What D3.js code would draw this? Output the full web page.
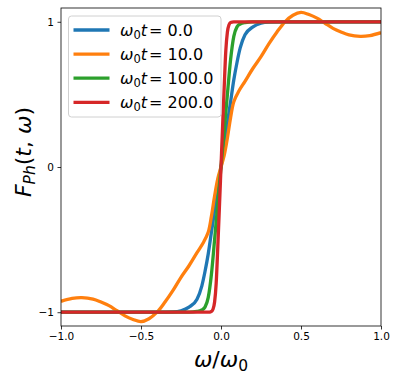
<!DOCTYPE html>
<html>
<head>
<meta charset="utf-8">
<script src="https://cdn.jsdelivr.net/npm/d3@7"></script>
<style>
  * { margin: 0; padding: 0; }
  body { background: #fff; font-family: "DejaVu Sans", sans-serif; }
  svg { display: block; }
</style>
</head>
<body>
<div id="chart"></div>
<script>
// data
const blueX = [-1, -0.4, -0.3, -0.25, -0.2, -0.15, -0.12, -0.1, -0.08, -0.06, -0.04, -0.02, 0, 0.02, 0.04, 0.06, 0.08, 0.1, 0.12, 0.15, 0.2, 0.25, 0.3, 0.4, 1];
const blueY = [-1, -1, -0.998, -0.99, -0.965, -0.91, -0.82, -0.72, -0.6, -0.45, -0.3, -0.13, 0, 0.13, 0.3, 0.45, 0.6, 0.72, 0.82, 0.91, 0.965, 0.99, 0.998, 1, 1];

const orangeX = [-1, -0.93, -0.87, -0.8, -0.75, -0.7, -0.65, -0.6, -0.55, -0.5, -0.45, -0.4, -0.35, -0.3, -0.25, -0.2, -0.15, -0.11, -0.08, -0.06, -0.04, -0.02, 0,
  0.02, 0.04, 0.06, 0.08, 0.11, 0.15, 0.2, 0.25, 0.3, 0.35, 0.4, 0.45, 0.5, 0.55, 0.6, 0.65, 0.7, 0.75, 0.8, 0.87, 0.93, 1];
const orangeY = [-0.925, -0.905, -0.9, -0.91, -0.93, -0.955, -0.99, -1.025, -1.05, -1.065, -1.045, -1.0, -0.93, -0.85, -0.76, -0.68, -0.59, -0.52, -0.45, -0.34, -0.2, -0.08, 0,
  0.08, 0.2, 0.34, 0.45, 0.52, 0.59, 0.68, 0.76, 0.85, 0.93, 1.0, 1.045, 1.065, 1.05, 1.025, 0.99, 0.955, 0.93, 0.91, 0.9, 0.905, 0.925];

const greenX = [-1, -0.2, -0.15, -0.12, -0.1, -0.08, -0.06, -0.04, -0.02, 0, 0.02, 0.04, 0.06, 0.08, 0.1, 0.12, 0.15, 0.2, 1];
const greenY = [-1, -1, -0.995, -0.985, -0.965, -0.9, -0.74, -0.5, -0.25, 0, 0.25, 0.5, 0.74, 0.9, 0.965, 0.985, 0.995, 1, 1];

const redX = [-1, -0.08, -0.06, -0.05, -0.04, -0.03, -0.02, -0.01, 0, 0.01, 0.02, 0.03, 0.04, 0.05, 0.06, 0.08, 1];
const redY = [-1, -1, -0.995, -0.98, -0.93, -0.8, -0.55, -0.28, 0, 0.28, 0.55, 0.8, 0.93, 0.98, 0.995, 1, 1];

const seriesNames = ["0.0", "10.0", "100.0", "200.0"];
const seriesColors = ["#1f77b4", "#ff7f0e", "#2ca02c", "#d62728"];
const xTicks = [-1, -0.5, 0, 0.5, 1];
const yTicks = [-1, 0, 1];

const W = 399, H = 381;
const mLeft = 61, mRight = 381, mTop = 8, mBottom = 326;

const x = d3.scaleLinear().domain([-1, 1]).range([mLeft, mRight]);
const y = d3.scaleLinear().domain([-1.095, 1.095]).range([mBottom, mTop]);

const svg = d3.select("#chart").append("svg")
  .attr("width", W).attr("height", H)
  .style("font-family", "DejaVu Sans, sans-serif");

const defs = svg.append("defs");
defs.append("clipPath").attr("id", "clip")
  .append("rect").attr("x", mLeft).attr("y", mTop)
  .attr("width", mRight - mLeft).attr("height", mBottom - mTop);

const fmtMinus = (s) => s.replace("-", "\u2212");

const xAxis = svg.append("g")
  .attr("transform", "translate(0," + mBottom + ")")
  .call(d3.axisBottom(x).tickValues(xTicks).tickSizeOuter(0).tickSize(3.5).tickPadding(3)
    .tickFormat((d) => fmtMinus(d3.format(".1f")(d))));
const yAxis = svg.append("g")
  .attr("transform", "translate(" + mLeft + ",0)")
  .call(d3.axisLeft(y).tickValues(yTicks).tickSizeOuter(0).tickSize(3.5).tickPadding(3.5)
    .tickFormat((d) => fmtMinus(d3.format("d")(d))));
[xAxis, yAxis].forEach((g) => {
  g.select(".domain").remove();
  g.selectAll("text").attr("font-size", 10.5).attr("fill", "#000").attr("font-family", "DejaVu Sans");
  g.selectAll("line").attr("stroke", "#000").attr("stroke-width", 0.8);
});

// curves
const smooth = d3.line().x((d) => x(d[0])).y((d) => y(d[1])).curve(d3.curveCatmullRom.alpha(0.5));
const steep = d3.line().x((d) => x(d[0])).y((d) => y(d[1])).curve(d3.curveMonotoneX);
const series = [
  d3.zip(blueX, blueY),
  d3.zip(orangeX, orangeY),
  d3.zip(greenX, greenY),
  d3.zip(redX, redY)
];
svg.append("g").attr("clip-path", "url(#clip)")
  .selectAll("path").data(series).enter().append("path")
  .attr("d", (d, i) => (i === 1 ? smooth(d) : steep(d)))
  .attr("fill", "none")
  .attr("stroke", (d, i) => seriesColors[i])
  .attr("stroke-width", 3.3)
  .attr("stroke-linejoin", "round")
  .attr("stroke-linecap", "butt");

// frame
svg.append("rect")
  .attr("x", mLeft).attr("y", mTop)
  .attr("width", mRight - mLeft).attr("height", mBottom - mTop)
  .attr("fill", "none").attr("stroke", "#000").attr("stroke-width", 0.8);

// legend
const lg = svg.append("g");
lg.append("rect")
  .attr("x", 68.5).attr("y", 16).attr("width", 152.5).attr("height", 101)
  .attr("rx", 3).attr("fill", "#fff").attr("fill-opacity", 0.8)
  .attr("stroke", "#d0d0d0").attr("stroke-width", 1);
seriesNames.forEach((name, i) => {
  const cy = 30 + i * 24.1;
  lg.append("line")
    .attr("x1", 73.5).attr("x2", 109.5).attr("y1", cy).attr("y2", cy)
    .attr("stroke", seriesColors[i]).attr("stroke-width", 3.3);
  const t = lg.append("text").attr("x", 120).attr("y", cy + 6)
    .attr("font-size", 16).attr("fill", "#000");
  t.append("tspan").attr("font-style", "italic").text("\u03C9");
  t.append("tspan").attr("font-size", 11.5).attr("dy", 3).text("0");
  t.append("tspan").attr("font-style", "italic").attr("dy", -3).text("t");
  t.append("tspan").attr("dx", 2).text("= " + name);
});

// axis labels
const xl = svg.append("text")
  .attr("x", 221).attr("y", 367).attr("text-anchor", "middle")
  .attr("font-size", 22).attr("fill", "#000");
xl.append("tspan").attr("font-style", "italic").text("\u03C9");
xl.append("tspan").text("/");
xl.append("tspan").attr("font-style", "italic").text("\u03C9");
xl.append("tspan").attr("font-size", 15.5).attr("dy", 4).text("0");

const yl = svg.append("text")
  .attr("transform", "translate(31,152) rotate(-90)")
  .attr("text-anchor", "middle")
  .attr("font-size", 22).attr("fill", "#000");
yl.append("tspan").attr("font-style", "italic").text("F");
yl.append("tspan").attr("font-style", "italic").attr("font-size", 15.5).attr("dy", 4).text("Ph");
yl.append("tspan").attr("dy", -4).text("(");
yl.append("tspan").attr("font-style", "italic").text("t");
yl.append("tspan").text(", ");
yl.append("tspan").attr("font-style", "italic").text("\u03C9");
yl.append("tspan").text(")");
</script>
</body>
</html>
